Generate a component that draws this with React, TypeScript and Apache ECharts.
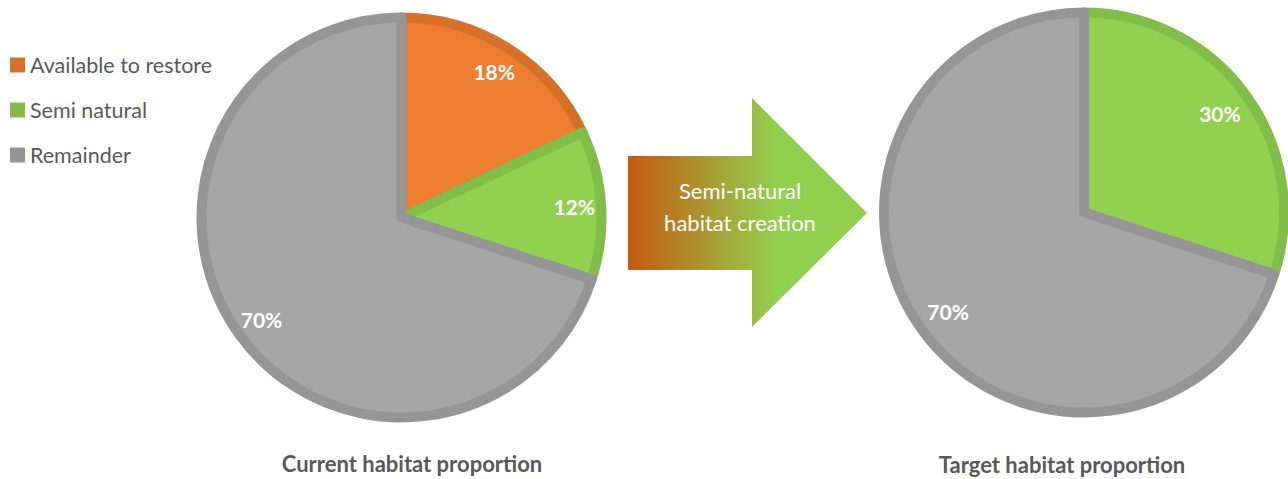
import React, { useEffect, useRef } from "react";
import * as echarts from "echarts";

const currentCategories = ["Available to restore", "Semi natural", "Remainder"];
const currentValues = [18, 12, 70];
const targetCategories = ["Semi natural", "Remainder"];
const targetValues = [30, 70];
const legendNames = ["Available to restore", "Semi natural", "Remainder"];
const chartTitles = ["Current habitat proportion", "Target habitat proportion"];
const arrowText = "Semi-natural\nhabitat creation";

const FILL: Record<string, string> = {
  "Available to restore": "#ED7D31",
  "Semi natural": "#92D050",
  Remainder: "#A5A5A5",
};
const EDGE: Record<string, string> = {
  "Available to restore": "#D6712C",
  "Semi natural": "#83BD49",
  Remainder: "#959595",
};

const FONT = "Lato, 'Open Sans', sans-serif";

function pieData(names: string[], values: number[]) {
  return names.map((n, i) => ({
    name: n,
    value: values[i],
    itemStyle: { color: FILL[n], borderColor: EDGE[n], borderWidth: 10 },
  }));
}

function labelData(names: string[], values: number[]) {
  return names.map((n, i) => ({ name: n, value: values[i] }));
}

export default function App() {
  const ref = useRef<HTMLDivElement>(null);
  useEffect(() => {
    if (!ref.current) return;
    const chart = echarts.init(ref.current, undefined, { renderer: "svg" });
    const labelStyle = {
      show: true,
      position: "inside",
      formatter: "{c}%",
      color: "#ffffff",
      fontFamily: FONT,
      fontWeight: "bold",
      fontSize: 21,
    };
    chart.setOption({
      animation: false,
      legend: {
        orient: "vertical",
        left: 5,
        top: 49,
        itemWidth: 15,
        itemHeight: 15,
        itemGap: 23,
        icon: "rect",
        selectedMode: false,
        textStyle: { color: "#595959", fontFamily: FONT, fontSize: 21.5 },
        data: legendNames.map((n) => ({ name: n, itemStyle: { color: EDGE[n], borderWidth: 0 } })),
      },
      series: [
        {
          type: "pie",
          center: [401.5, 217.5],
          radius: [0, 200],
          startAngle: 90,
          clockwise: true,
          silent: true,
          z: 2,
          label: { show: false },
          labelLine: { show: false },
          data: pieData(currentCategories, currentValues),
        },
        {
          type: "pie",
          center: [401.5, 217.5],
          radius: [136, 204],
          startAngle: 90,
          silent: true,
          z: 3,
          itemStyle: { color: "rgba(0,0,0,0)" },
          label: labelStyle,
          labelLine: { show: false },
          data: labelData(currentCategories, currentValues),
        },
        {
          type: "pie",
          center: [1084, 212.5],
          radius: [0, 200],
          startAngle: 90,
          clockwise: true,
          silent: true,
          z: 2,
          label: { show: false },
          labelLine: { show: false },
          data: pieData(targetCategories, targetValues),
        },
        {
          type: "pie",
          center: [1084, 212.5],
          radius: [126, 204],
          startAngle: 90,
          silent: true,
          z: 3,
          itemStyle: { color: "rgba(0,0,0,0)" },
          label: labelStyle,
          labelLine: { show: false },
          data: labelData(targetCategories, targetValues),
        },
      ],
      graphic: [
        {
          type: "polygon",
          silent: true,
          shape: {
            points: [
              [628, 156],
              [752, 156],
              [752, 98],
              [867, 213],
              [752, 327],
              [752, 270],
              [628, 270],
            ],
          },
          style: {
            fill: new echarts.graphic.LinearGradient(0, 0, 1, 0, [
              { offset: 0, color: "#C55A11" },
              { offset: 0.62, color: "#92D050" },
              { offset: 1, color: "#92D050" },
            ]),
          },
        },
        {
          type: "text",
          silent: true,
          x: 740,
          y: 206,
          style: {
            text: arrowText,
            fill: "#ffffff",
            font: `22px ${FONT}`,
            lineHeight: 32,
            align: "center",
            verticalAlign: "middle",
          },
        },
        {
          type: "text",
          silent: true,
          x: 412,
          y: 463,
          style: {
            text: chartTitles[0],
            fill: "#595959",
            font: `bold 22px ${FONT}`,
            align: "center",
            verticalAlign: "middle",
          },
        },
        {
          type: "text",
          silent: true,
          x: 1062,
          y: 464,
          style: {
            text: chartTitles[1],
            fill: "#595959",
            font: `bold 22px ${FONT}`,
            align: "center",
            verticalAlign: "middle",
          },
        },
      ],
    });
    return () => chart.dispose();
  }, []);
  return (
    <div
      ref={ref}
      style={{ position: "absolute", left: 0, top: 0, width: 1288, height: 479, background: "#ffffff" }}
    />
  );
}
